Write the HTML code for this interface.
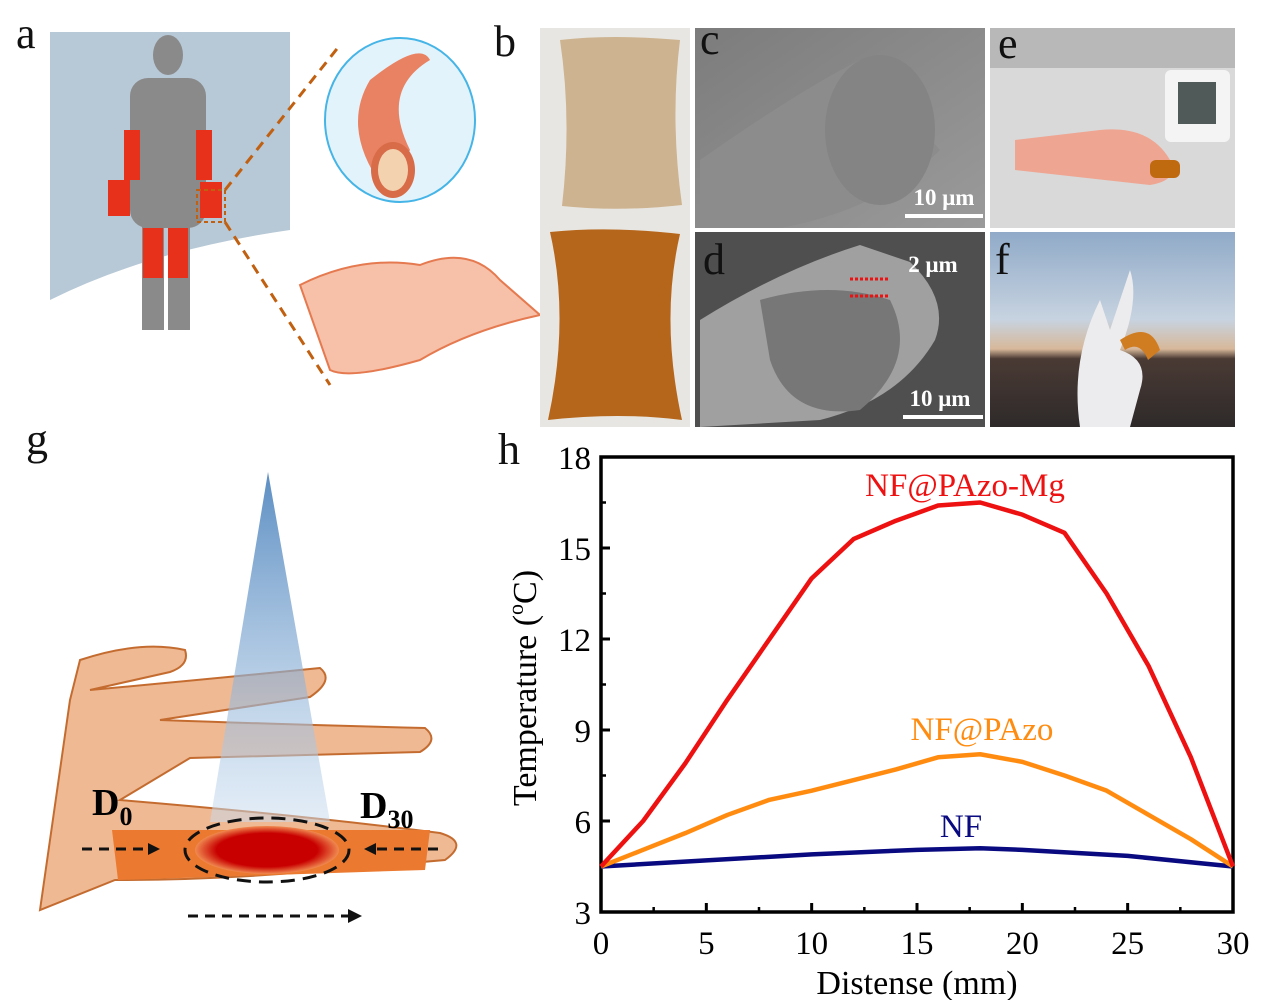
<!DOCTYPE html>
<html><head><meta charset="utf-8"><style>
body{margin:0;background:#fff;width:1270px;height:1000px;overflow:hidden;position:relative;font-family:"Liberation Serif",serif}
.lbl{position:absolute;font-size:44px;color:#111;line-height:1}
</style></head><body>
<svg width="1270" height="1000" style="position:absolute;left:0;top:0">
<defs>
<linearGradient id="sky" x1="0" y1="0" x2="0" y2="1"><stop offset="0" stop-color="#90aac8"/><stop offset="0.45" stop-color="#c7d3e0"/><stop offset="0.6" stop-color="#d7b89a"/><stop offset="0.65" stop-color="#4a3a34"/><stop offset="1" stop-color="#2e2a2a"/></linearGradient>
<linearGradient id="beam" x1="0" y1="0" x2="0" y2="1"><stop offset="0" stop-color="#3f7ab8"/><stop offset="1" stop-color="#c9dcef" stop-opacity="0.6"/></linearGradient>
<linearGradient id="semc" x1="0" y1="0" x2="1" y2="1"><stop offset="0" stop-color="#7c7c7c"/><stop offset="1" stop-color="#9a9a9a"/></linearGradient>
<radialGradient id="glow"><stop offset="0.7" stop-color="#c80000"/><stop offset="1" stop-color="#f08a50"/></radialGradient>
</defs>
<g>
<rect x="50" y="32" width="240" height="278" fill="#b7c8d6"/>
<path d="M50 300 Q150 250 290 230 L290 320 L50 320Z" fill="#fff"/>
<g fill="#8a8a8a">
<ellipse cx="168" cy="55" rx="15" ry="20"/>
<rect x="130" y="78" width="76" height="150" rx="18"/>
<rect x="142" y="220" width="22" height="110"/><rect x="168" y="220" width="22" height="110"/>
</g>
<g fill="#e8311a">
<rect x="124" y="130" width="16" height="50"/><rect x="196" y="130" width="16" height="50"/>
<rect x="108" y="180" width="22" height="36"/><rect x="200" y="182" width="22" height="36"/>
<rect x="143" y="228" width="20" height="50"/><rect x="168" y="228" width="20" height="50"/>
</g>
<rect x="197" y="190" width="28" height="32" fill="none" stroke="#c06010" stroke-width="2" stroke-dasharray="4 3"/>
<path d="M225 222 L330 385 M225 190 L340 45" stroke="#c06010" stroke-width="3" stroke-dasharray="10 7"/>
<ellipse cx="400" cy="120" rx="75" ry="82" fill="#e3f3fb" stroke="#45b4e6" stroke-width="2"/>
<path d="M370 80 Q420 40 430 60 Q380 90 410 150 L385 190 Q340 130 370 80Z" fill="#e98262"/>
<ellipse cx="393" cy="170" rx="22" ry="28" fill="#d86c48"/>
<ellipse cx="393" cy="170" rx="15" ry="21" fill="#f3d2b0"/>
<path d="M300 285 Q360 255 420 265 Q470 245 500 280 L540 315 Q470 330 420 360 Q350 380 330 370Z" fill="#f7c0a8" stroke="#e57a50" stroke-width="2"/>
</g>
<g>
<rect x="540" y="28" width="150" height="399" fill="#e8e6e2"/>
<path d="M560 40 Q610 34 680 40 Q670 120 682 205 Q620 212 562 206 Q572 120 560 40Z" fill="#cdb38f"/>
<path d="M550 232 Q610 226 680 234 Q660 320 682 420 Q620 412 548 420 Q570 320 550 232Z" fill="#b6661a"/>
</g>
<rect x="695" y="28" width="290" height="200" fill="url(#semc)"/>
<path d="M700 160 Q800 90 860 60 L940 150 Q880 210 780 228 L700 228Z" fill="#8c8c8c"/>
<ellipse cx="880" cy="130" rx="55" ry="75" fill="#848484"/>
<rect x="905" y="214" width="78" height="4" fill="#fff"/>
<text x="944" y="205" font-size="23" fill="#fff" font-weight="bold" text-anchor="middle" font-family="Liberation Serif">10 μm</text>
<rect x="695" y="232" width="290" height="195" fill="#4f4f4f"/>
<path d="M700 320 Q780 270 860 245 L910 262 Q950 300 935 340 Q900 400 820 420 L700 427Z" fill="#a0a0a0"/>
<path d="M760 300 Q830 280 890 300 Q920 360 860 410 Q790 420 770 360Z" fill="#777"/>
<path d="M850 279 H890 M850 296 H890" stroke="#ee1111" stroke-width="3" stroke-dasharray="3 2"/>
<text x="933" y="272" font-size="23" fill="#fff" font-weight="bold" text-anchor="middle" font-family="Liberation Serif">2 μm</text>
<rect x="903" y="415" width="80" height="4" fill="#fff"/>
<text x="940" y="406" font-size="23" fill="#fff" font-weight="bold" text-anchor="middle" font-family="Liberation Serif">10 μm</text>
<g>
<rect x="990" y="28" width="245" height="200" fill="#d9d9d9"/>
<rect x="990" y="28" width="245" height="40" fill="#b8b8b8"/>
<rect x="1165" y="70" width="65" height="72" rx="6" fill="#f4f4f4"/>
<rect x="1178" y="82" width="38" height="42" fill="#505a58"/>
<path d="M1015 140 L1100 130 Q1150 125 1170 160 Q1180 180 1150 185 L1015 170Z" fill="#eea592"/>
<rect x="1150" y="160" width="30" height="18" rx="6" fill="#c06a10"/>
</g>
<g>
<rect x="990" y="232" width="245" height="195" fill="url(#sky)"/>
<path d="M1080 427 Q1070 360 1100 300 L1110 330 L1130 270 Q1140 300 1120 350 Q1150 360 1140 390 L1130 427Z" fill="#ececee"/>
<path d="M1120 340 Q1150 320 1160 350 L1148 360 Q1140 340 1125 350Z" fill="#d07c20"/>
</g>
<g>
<path d="M70 700 L80 660 Q140 640 185 650 Q190 665 170 672 L90 690 Q200 680 320 668 Q335 680 310 697 L160 720 Q300 725 425 728 Q440 740 420 752 L190 758 L120 800 Q300 815 440 833 Q470 842 445 860 L330 870 Q220 880 115 880 L40 910Z" fill="#efb994" stroke="#c46c30" stroke-width="2"/>
<polygon points="268,472 210,822 330,822" fill="url(#beam)" opacity="0.85"/>
<polygon points="112,830 430,830 425,870 118,880" fill="#eb7a30"/>
<ellipse cx="267" cy="850" rx="82" ry="32" fill="none" stroke="#111" stroke-width="3" stroke-dasharray="14 8"/>
<ellipse cx="267" cy="850" rx="72" ry="24" fill="url(#glow)"/>
<path d="M82 849 H150 M438 849 H375 M188 916 H350" stroke="#111" stroke-width="3" stroke-dasharray="10 7"/>
<polygon points="160,849 148,843 148,855" fill="#111"/><polygon points="364,849 376,843 376,855" fill="#111"/><polygon points="362,916 348,909 348,923" fill="#111"/>
<text x="92" y="815" font-size="38" font-weight="bold" font-family="Liberation Serif">D<tspan font-size="26" dy="10">0</tspan></text>
<text x="360" y="818" font-size="38" font-weight="bold" font-family="Liberation Serif">D<tspan font-size="26" dy="10">30</tspan></text>
</g>
<g id="chart"></g>
</svg>
<div class="lbl" style="left:16px;top:12px">a</div>
<div class="lbl" style="left:494px;top:20px">b</div>
<div class="lbl" style="left:700px;top:18px">c</div>
<div class="lbl" style="left:998px;top:22px">e</div>
<div class="lbl" style="left:703px;top:238px">d</div>
<div class="lbl" style="left:995px;top:238px">f</div>
<div class="lbl" style="left:26px;top:418px">g</div>
<div class="lbl" style="left:498px;top:428px">h</div>
<script>
const xRed=[0,2,4,6,8,10,12,14,16,18,20,22,24,26,28,30];
const red=[4.5,6,7.9,10,12,14,15.3,15.9,16.4,16.5,16.1,15.5,13.5,11.1,8.1,4.5];
const xOrange=[0,2,4,6,8,10,12,14,16,18,20,22,24,26,28,30];
const orange=[4.5,5.05,5.6,6.2,6.7,7.0,7.35,7.7,8.1,8.2,7.95,7.5,7.0,6.2,5.4,4.5];
const xBlue=[0,5,10,15,18,20,25,30];
const blue=[4.5,4.7,4.9,5.05,5.1,5.05,4.85,4.5];
const xTicks=[0,5,10,15,20,25,30];
const yTicks=[3,6,9,12,15,18];
const NS='http://www.w3.org/2000/svg';
const L=601,R=1233,T=457,B=912;
const sx=v=>L+(v-0)/30*(R-L), sy=v=>B-(v-3)/15*(B-T);
const g=document.getElementById('chart');
function mk(t,a,txt){const e=document.createElementNS(NS,t);for(const k in a)e.setAttribute(k,a[k]);if(txt!==undefined)e.textContent=txt;g.appendChild(e);return e;}
const fr=mk('rect',{x:L,y:T,width:R-L,height:B-T,fill:'none',stroke:'#000','stroke-width':3.5});


xTicks.forEach(v=>{const t=mk('line',{x1:sx(v),x2:sx(v),y1:B,y2:B-9,stroke:'#000','stroke-width':3});


const l=mk('text',{x:sx(v),y:B+42,'text-anchor':'middle','font-size':33,'font-family':'Liberation Serif'},v);


if(v<30){const m=mk('line',{x1:sx(v+2.5),x2:sx(v+2.5),y1:B,y2:B-5,stroke:'#000','stroke-width':2.5});

}});
yTicks.forEach(v=>{const t=mk('line',{x1:L,x2:L+9,y1:sy(v),y2:sy(v),stroke:'#000','stroke-width':3});


const l=mk('text',{x:L-10,y:sy(v)+12,'text-anchor':'end','font-size':33,'font-family':'Liberation Serif'},v);


if(v<18){const m=mk('line',{x1:L,x2:L+5,y1:sy(v+1.5),y2:sy(v+1.5),stroke:'#000','stroke-width':2.5});

}});
function series(xs,ys,c,name){const p=mk('polyline',{points:xs.map((x,i)=>sx(x)+','+sy(ys[i])).join(' '),fill:'none',stroke:c,'stroke-width':4.5,'stroke-linejoin':'round'});

}
series(xBlue,blue,'#0a0a80','line-nf');
series(xOrange,orange,'#ff8c10','line-nf-pazo');
series(xRed,red,'#ee1111','line-nf-pazo-mg');
const a=mk('text',{x:965,y:496,'text-anchor':'middle','font-size':33,fill:'#ee1111','font-family':'Liberation Serif'},'NF@PAzo-Mg');


const b=mk('text',{x:982,y:740,'text-anchor':'middle','font-size':33,fill:'#ff8c10','font-family':'Liberation Serif'},'NF@PAzo');


const c=mk('text',{x:961,y:837,'text-anchor':'middle','font-size':33,fill:'#0a0a80','font-family':'Liberation Serif'},'NF');


const xt=mk('text',{x:(L+R)/2,y:994,'text-anchor':'middle','font-size':34,'font-family':'Liberation Serif'},'Distense (mm)');


const yt=mk('text',{x:0,y:0,'text-anchor':'middle','font-size':34,'font-family':'Liberation Serif',transform:'translate(536,688) rotate(-90)'});
yt.innerHTML='Temperature (<tspan dy="-13" font-size="22">o</tspan><tspan dy="13">C)</tspan>';


</script>
</body></html>
